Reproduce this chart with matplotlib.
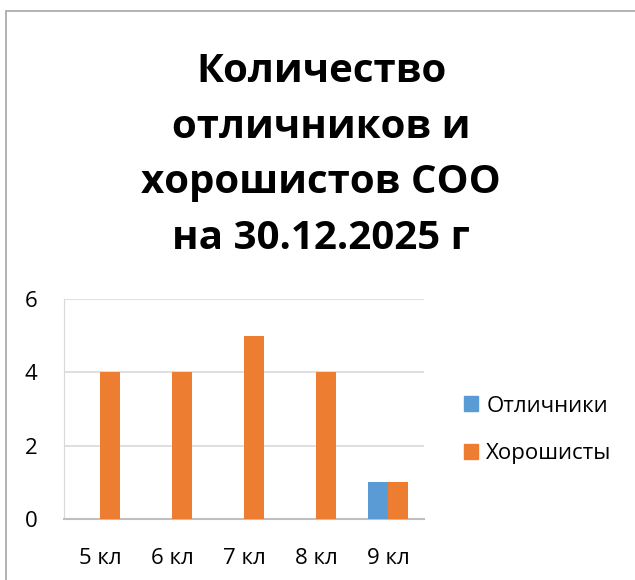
import matplotlib.pyplot as plt
from matplotlib.patches import Rectangle, Patch

plt.rcParams['font.family'] = ['Open Sans', 'DejaVu Sans']

classes = ["5 кл", "6 кл", "7 кл", "8 кл", "9 кл"]
otlichniki = [0, 0, 0, 0, 1]
horoshisty = [4, 4, 5, 4, 1]
series_names = ["Отличники", "Хорошисты"]
title = "Количество\nотличников и\nхорошистов СОО\nна 30.12.2025 г"

blue = '#5B9BD5'
orange = '#ED7D31'

fig = plt.figure(figsize=(6.35, 5.8), dpi=100)

# chart frame (cut off at right and bottom like the screenshot)
fig.patches.append(Rectangle((6 / 635, -0.1), 1.2, 1 - 11 / 580 + 0.1,
                             transform=fig.transFigure, fill=False,
                             edgecolor='#A6A6A6', linewidth=1.2))

fig.text(321 / 635, 1 - 155 / 580, title, ha='center', va='center',
         fontsize=29, fontweight='bold', linespacing=1.55)

ax = fig.add_axes([64 / 635, 1 - 519 / 580, 360 / 635, 220 / 580])
x = list(range(len(classes)))
w = 0.28
ax.bar([i - w / 2 for i in x], otlichniki, width=w, color=blue, zorder=3)
ax.bar([i + w / 2 for i in x], horoshisty, width=w, color=orange, zorder=3)

ax.set_xlim(-0.5, len(classes) - 0.5)
ax.set_ylim(0, 6)
ax.set_yticks([0, 2, 4, 6])
ax.set_xticks(x)
ax.set_xticklabels(classes)
ax.tick_params(length=0, labelsize=16, pad=21)
ax.tick_params(axis='y', pad=19)
ax.grid(axis='y', color='#D9D9D9', linewidth=1.2, zorder=0)
for s in ['top', 'right']:
    ax.spines[s].set_visible(False)
ax.spines['left'].set_color('#D9D9D9')
ax.spines['bottom'].set_color('#BFBFBF')
ax.spines['bottom'].set_linewidth(1.5)

handles = [Patch(color=blue), Patch(color=orange)]
fig.legend(handles, series_names, loc='center left',
           bbox_to_anchor=(444 / 635, 1 - 430 / 580), frameon=False,
           fontsize=16, handlelength=0.65, handleheight=0.65,
           handletextpad=0.35, labelspacing=1.2)

fig.savefig('out.png', dpi=100)
